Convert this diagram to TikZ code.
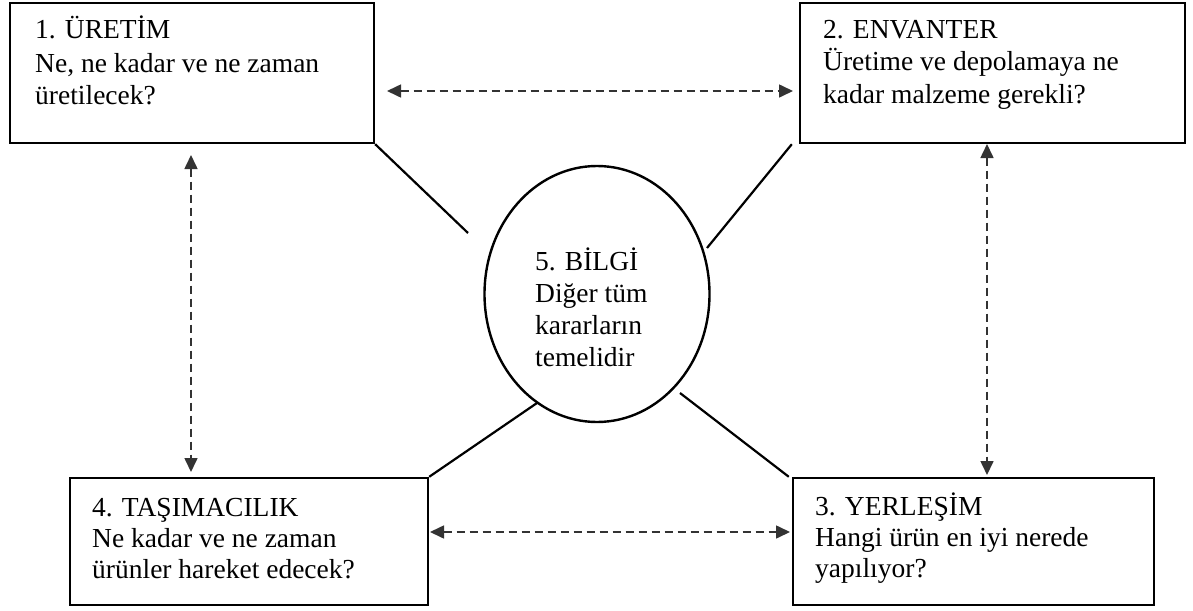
\documentclass[tikz,border=0pt]{standalone}
\usepackage{fontspec}
\setmainfont{Liberation Serif}
\usetikzlibrary{arrows.meta,shapes.geometric}

\begin{document}
\begin{tikzpicture}[x=1pt,y=-1pt,
  boxshape/.style={draw, line width=2.4pt, rectangle, inner sep=0pt},
  infoshape/.style={draw, line width=2.4pt, ellipse, inner sep=0pt},
  boxtext/.style={anchor=base west, inner sep=0pt, font=\fontsize{27.5}{#1}\selectfont},
  boxtext/.default=32,
  link/.style={line width=2.2pt},
  flow/.style={line width=1.6pt, black!80, dash pattern=on 8pt off 5pt,
    {Triangle[length=14pt,width=13pt]}-{Triangle[length=14pt,width=13pt]}}
]
\useasboundingbox (0,0) rectangle (1193,610);

% decision boxes
\node[boxshape, minimum width=364pt, minimum height=140pt] (b1) at (192,73) {};
\node[boxshape, minimum width=385pt, minimum height=140pt] (b2) at (992.5,73) {};
\node[boxshape, minimum width=361pt, minimum height=127pt] (b3) at (973.5,541.5) {};
\node[boxshape, minimum width=358pt, minimum height=127pt] (b4) at (249,541.5) {};
\node[infoshape, minimum width=225pt, minimum height=256pt] (b5) at (597,294) {};

% box texts
\node[boxtext=33] (t1) at (35,39) {\parbox[t]{330pt}{\raggedright
  1. ÜRETİM\\Ne, ne kadar ve ne zaman\\üretilecek?}};
\node[boxtext=32] (t2) at (823,39) {\parbox[t]{350pt}{\raggedright
  2. ENVANTER\\Üretime ve depolamaya ne\\kadar malzeme gerekli?}};
\node[boxtext=31] (t3) at (815,515) {\parbox[t]{330pt}{\raggedright
  3. YERLEŞİM\\Hangi ürün en iyi nerede\\yapılıyor?}};
\node[boxtext=31] (t4) at (92,516) {\parbox[t]{330pt}{\raggedright
  4. TAŞIMACILIK\\Ne kadar ve ne zaman\\ürünler hareket edecek?}};
\node[boxtext=32] (t5) at (535,270) {\parbox[t]{150pt}{\raggedright
  5. BİLGİ\\Diğer tüm\\kararların\\temelidir}};

% spokes between the boxes and the information hub
\coordinate (e1) at (468,233);
\coordinate (e2) at (707,248);
\coordinate (e3) at (537,403);
\coordinate (e4) at (680,393);
\draw[link] (b1.south east) -- (e1);
\draw[link] ([xshift=-7pt]b2.south west) -- (e2);
\draw[link] (e3) -- (b4.north east);
\draw[link] (e4) -- ([xshift=-3pt]b3.north west);

% two-way dashed relations
\coordinate (p1) at (387,91);
\coordinate (p2) at (793,91);
\coordinate (q1) at (191,155);
\coordinate (q2) at (191,472);
\coordinate (r1) at (987,144);
\coordinate (r2) at (987,475);
\coordinate (s1) at (430,532);
\coordinate (s2) at (790,532);
\draw[flow] (p1) -- (p2);
\draw[flow] (q1) -- (q2);
\draw[flow] (r1) -- (r2);
\draw[flow] (s1) -- (s2);
\end{tikzpicture}
\end{document}
